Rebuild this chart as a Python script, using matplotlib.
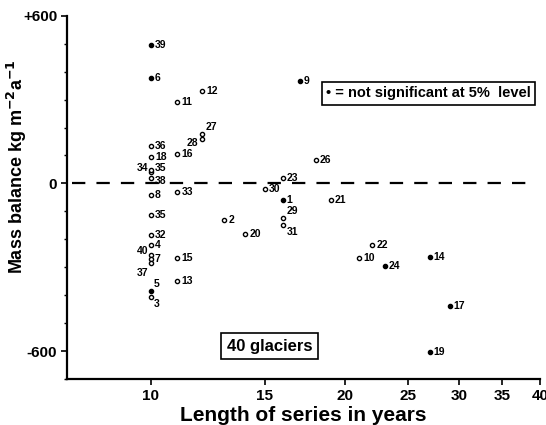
import numpy as np
import matplotlib
matplotlib.use("Agg")
import matplotlib.pyplot as plt
from matplotlib import ticker

plt.rcParams['font.family'] = ['Liberation Sans', 'DejaVu Sans']
plt.rcParams['font.weight'] = 'bold'
plt.rcParams['mathtext.default'] = 'bf'

# glacier number, length of series (years), mass balance (kg m-2 a-1)
glacier_ids = ["39", "6", "12", "11", "27", "28", "36", "18", "16", "34",
               "35", "38", "8", "33", "35", "2", "30", "23", "1", "29",
               "31", "20", "26", "9", "21", "32", "4", "40", "7", "37",
               "15", "13", "5", "3", "22", "10", "24", "14", "17", "19"]
years = [10, 10, 12, 11, 12, 12, 10, 10, 11, 10,
         10, 10, 10, 11, 10, 13, 15, 16, 16, 16,
         16, 14, 18, 17, 19, 10, 10, 10, 10, 10,
         11, 11, 10, 10, 22, 21, 23, 27, 29, 27]
balance = [496, 378, 331, 291, 178, 160, 134, 95, 105, 40,
           48, 20, -42, -32, -113, -132, -19, 21, -61, -125,
           -150, -181, 83, 368, -59, -184, -220, -255, -271, -285,
           -268, -348, -386, -407, -220, -267, -295, -264, -437, -602]
# True = not significant at 5% level (filled dot)
not_signif = [True, True, False, False, False, False, False, False, False, False,
              False, False, False, False, False, False, False, False, True, False,
              False, False, False, True, False, False, False, False, False, False,
              False, False, True, False, False, False, True, True, True, True]

x_ticks = [10, 15, 20, 25, 30, 35, 40]
y_ticks = [-600, 0, 600]
y_ticklabels = ["-600", "0", "+600"]

# label placement (offset in points, horizontal alignment) for crowded points
label_style = {
    9: ((-2, 3), "right"),    # 34
    10: ((3, 1.5), "left"),   # 35 upper
    11: ((3, -2), "left"),    # 38
    5: ((-3, -3), "right"),   # 28
    4: ((3, 5), "left"),      # 27
    19: ((3, 5), "left"),     # 29
    20: ((3, -5), "left"),    # 31
    27: ((-2, 3), "right"),   # 40
    29: ((-2, -7), "right"),  # 37
    32: ((2, 5), "left"),     # 5
    33: ((2, -5), "left"),    # 3
}

fig = plt.figure(figsize=(5.46, 4.25), dpi=100)
ax = fig.add_axes([0.1227, 0.108, 0.866, 0.855])

ax.set_xscale("log")
ax.set_xlim(7.42, 40)
ax.set_ylim(-700, 600)

ax.axhline(0, color="black", lw=1.6, ls=(0, (6, 5)), xmin=0.01, xmax=0.975, zorder=1)

for i, (x, y) in enumerate(zip(years, balance)):
    face = "black" if not_signif[i] else "white"
    ax.plot(x, y, marker="o", ms=3, mfc=face, mec="black", mew=1.0,
            ls="none", zorder=3)
    off, ha = label_style.get(i, ((3, 0), "left"))
    ax.annotate(glacier_ids[i], (x, y), xytext=off, textcoords="offset points",
                ha=ha, va="center", fontsize=7.5, fontweight="bold")

# axes styling
for s in ["top", "right"]:
    ax.spines[s].set_visible(False)
for s in ["left", "bottom"]:
    ax.spines[s].set_linewidth(1.6)

ax.xaxis.set_major_locator(ticker.FixedLocator(x_ticks))
ax.xaxis.set_major_formatter(ticker.FixedFormatter([str(t) for t in x_ticks]))
ax.xaxis.set_minor_locator(ticker.NullLocator())
ax.yaxis.set_major_locator(ticker.FixedLocator(y_ticks))
ax.yaxis.set_major_formatter(ticker.FixedFormatter(y_ticklabels))
ax.yaxis.set_minor_locator(ticker.MultipleLocator(100))
ax.tick_params(axis="both", which="major", length=4, width=1.2, labelsize=11, pad=3)
ax.tick_params(axis="y", which="minor", length=2.5, width=1.0)
for lab in ax.get_xticklabels() + ax.get_yticklabels():
    lab.set_fontweight("bold")

ax.set_xlabel("Length of series in years", fontsize=15, fontweight="bold", labelpad=2)
ax.set_ylabel(r"Mass balance kg m$^{-2}$a$^{-1}$", fontsize=13, fontweight="bold")
ax.yaxis.set_label_coords(-0.08, 0.585)

# boxes
ax.text(0.765, 0.786, "\u2022 = not significant at 5%  level", transform=ax.transAxes,
        ha="center", va="center", fontsize=10.5, fontweight="bold",
        bbox=dict(boxstyle="square,pad=0.3", fc="white", ec="black", lw=1.2))
ax.text(0.429, 0.091, "40 glaciers", transform=ax.transAxes,
        ha="center", va="center", fontsize=12, fontweight="bold",
        bbox=dict(boxstyle="square,pad=0.35", fc="white", ec="black", lw=1.2))

fig.savefig("out.png", dpi=100)
